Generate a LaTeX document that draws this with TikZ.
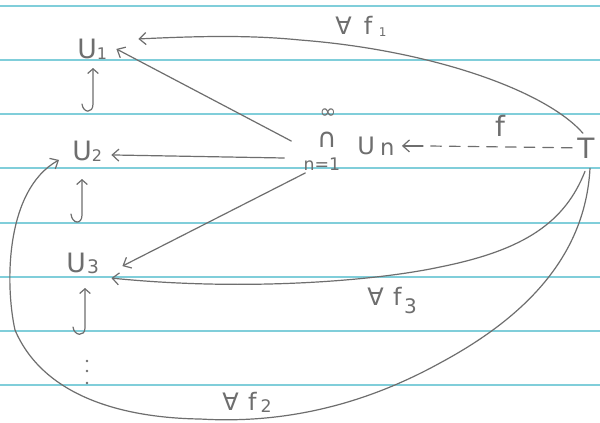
\documentclass[tikz,border=0pt]{standalone}
\usepackage{fontspec}
\setmainfont{DejaVu Sans}
\usetikzlibrary{arrows.meta,calc}
\definecolor{ink}{RGB}{110,110,110}
\definecolor{rule}{RGB}{128,206,218}
\begin{document}
\begin{tikzpicture}[x=0.75pt,y=-0.75pt,
  txt/.style={text=ink, inner sep=1pt, outer sep=0pt},
  pen/.style={draw=ink, line width=0.9pt, line cap=round},
  arr/.style={pen, -{Straight Barb[length=5pt,width=9pt]}},
  hookarr/.style={pen, -{Straight Barb[length=3.5pt,width=8pt]}},
  dashline/.style={dash pattern=on 8pt off 6pt},
  paper/.style={draw=rule, line width=1.4pt}]
\useasboundingbox (0,0) rectangle (600,422);
\fill[white] (0,0) rectangle (600,422);
\foreach \y in {6,60,114,168,223,277,331,385} \draw[paper] (0,\y) -- (600,\y);

% sets
\node[txt, anchor=base west, font=\fontsize{20}{24}\selectfont] (u1) at (76,58) {U\raisebox{-1pt}{\fontsize{12}{14}\selectfont 1}};
\node[txt, anchor=base west, font=\fontsize{20}{24}\selectfont] (u2) at (71,160) {U\raisebox{-1pt}{\fontsize{12}{14}\selectfont 2}};
\node[txt, anchor=base west, font=\fontsize{20}{24}\selectfont] (u3) at (65,272) {U\hspace{1pt}\raisebox{-1pt}{\fontsize{14}{16}\selectfont 3}};

% intersection
\node[txt, inner sep=0pt, font=\fontsize{20}{24}\selectfont] (cap) at (327,140) {∩};
\node[txt, inner sep=0pt, font=\fontsize{15}{17}\selectfont] (inf) at (328,114) {∞};
\node[txt, inner sep=0pt, font=\fontsize{13}{15}\selectfont] (n1) at (322,164) {n=1};
\node[txt, anchor=base west, font=\fontsize{18}{20}\selectfont] (un) at (356,154) {U\hspace{4pt}\raisebox{-1pt}{\fontsize{17}{19}\selectfont n}};
\node[txt, anchor=base, font=\fontsize{21}{24}\selectfont] (T) at (586,158) {T};

% labels
\node[txt, anchor=base, font=\fontsize{21}{24}\selectfont] (lf) at (500,136) {f};
\node[txt, anchor=base west, font=\fontsize{18}{20}\selectfont] (lf1) at (334,34) {∀\hspace{9pt}f\hspace{5pt}\raisebox{-2pt}{\fontsize{9}{10}\selectfont 1}};
\node[txt, anchor=base west, font=\fontsize{18}{20}\selectfont] (lf3) at (366,305) {∀\hspace{7pt}f\hspace{2pt}\raisebox{-6pt}{\fontsize{15}{17}\selectfont 3}};
\node[txt, anchor=base west, font=\fontsize{18}{20}\selectfont] (lf2) at (221,410) {∀\hspace{7pt}f\hspace{3pt}\raisebox{-2pt}{\fontsize{13}{15}\selectfont 2}};

% inclusions
\draw[hookarr] (82,104) .. controls (83,113) and (93,114) .. (93,104) -- (93,68);
\draw[hookarr] (71,214) .. controls (72,224) and (82,225) .. (82,215) -- (82,179);
\draw[hookarr] (73,327) .. controls (74,336) and (85,337) .. (85,328) -- (85,288);
\fill[ink] (87,361) circle (1.4) (87,371) circle (1.4) (87,383) circle (1.4);

% maps from the intersection
\draw[arr] ($(cap.west)+(-26,1)$) -- ($(u1.east)+(8,0)$);
\draw[arr] ($(cap.west)+(-33,18)$) -- ($(u2.east)+(8,4)$);
\draw[arr] ($(cap.west)+(-12,33)$) -- ($(u3.east)+(22,3)$);

% f
\draw[pen, dashline] ($(T.west)+(-4,0)$) -- ($(un.east)+(26,0)$);
\draw[arr] ($(un.east)+(27,0)$) -- ($(un.east)+(6,0)$);

% forall f1
\draw[arr] ($(T.north)+(-3,-3)$) .. controls (545,90) and (430,50) .. (300,40)
  .. controls (250,35) and (200,36) .. ($(u1.east)+(30,-10)$);
% forall f3
\draw[arr] ($(T.south)+(-1,12)$) .. controls (565,222) and (525,250) .. (440,267)
  .. controls (380,280) and (250,292) .. ($(u3.east)+(11,15)$);
% forall f2
\draw[arr] ($(T.south)+(4,9)$) .. controls (585,260) and (520,320) .. (440,363)
  .. controls (380,396) and (300,425) .. (200,419)
  .. controls (130,418) and (45,400) .. (15,330)
  .. controls (5,285) and (5,190) .. ($(u2.west)+(-12,9)$);
\end{tikzpicture}
\end{document}
